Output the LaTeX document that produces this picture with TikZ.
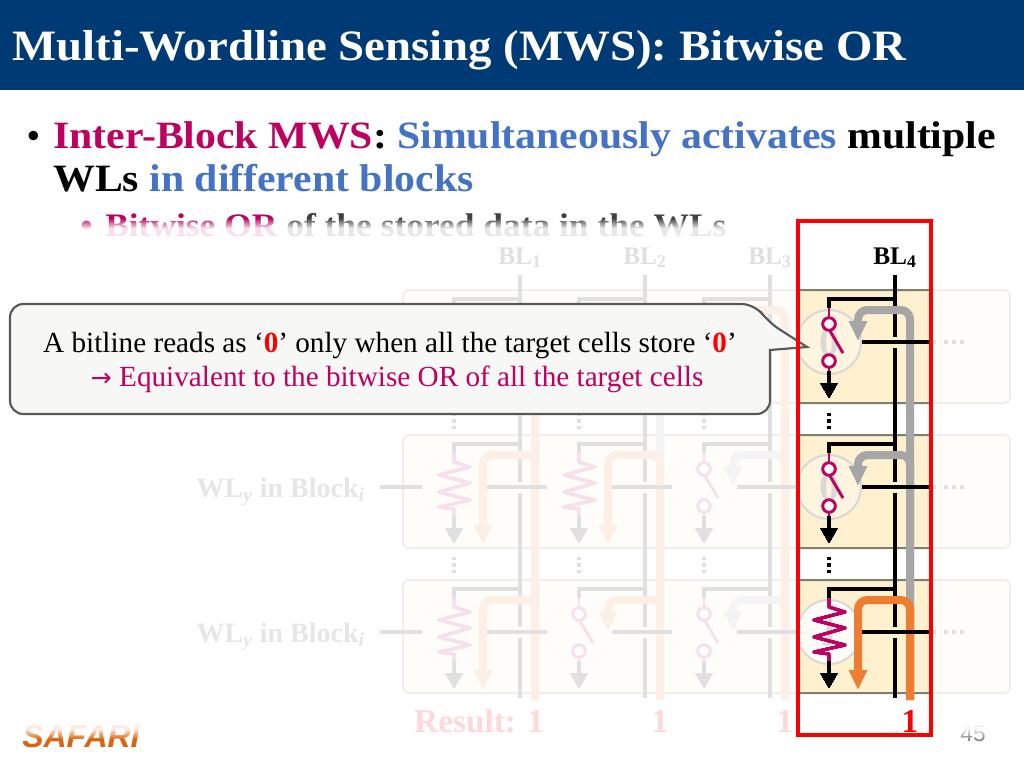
\documentclass[tikz,border=0pt]{standalone}
\usepackage{fontspec}
\setmainfont{Liberation Serif}
\setsansfont{Liberation Sans}
\newfontfamily\symfont{DejaVu Sans}
\newfontfamily\widefont[FakeStretch=1.08]{Liberation Serif}
\usetikzlibrary{arrows.meta,fadings}
\definecolor{slideblue}{HTML}{003A75}
\definecolor{safmag}{HTML}{BE0060}
\definecolor{safblue}{HTML}{4472C4}
\definecolor{bandfill}{HTML}{FFF0CF}
\definecolor{blockedge}{HTML}{7F7F6F}
\definecolor{hotorange}{HTML}{ED7D31}
\definecolor{thickgray}{HTML}{A6A6A6}
\definecolor{ringgray}{HTML}{D9D9D9}
\definecolor{boxfill}{HTML}{F7F7F5}
\definecolor{boxedge}{HTML}{595959}
\definecolor{safari}{HTML}{DC6410}
\tikzset{
  bigtext/.style={anchor=base west, inner sep=0pt, font=\widefont\fontsize{29}{33}\selectfont\bfseries},
  subtext/.style={anchor=base west, inner sep=0pt, font=\widefont\fontsize{24.6}{28}\selectfont\bfseries},
  bllabel/.style={anchor=base, inner sep=0pt, font=\fontsize{19}{22}\selectfont\bfseries},
  wllabel/.style={anchor=base east, inner sep=0pt, text=black!80, font=\fontsize{21}{24}\selectfont\bfseries},
  resultlabel/.style={anchor=base, inner sep=0pt, text=red, font=\fontsize{25}{28}\selectfont\bfseries},
  calltext/.style={anchor=base, inner sep=0pt, font=\fontsize{21.9}{25}\selectfont},
  bitwire/.style={line width=2.4pt},
  cellwire/.style={line width=2.2pt, safmag},
  tinyarrow/.style={bitwire, -{Triangle[length=11pt,width=12pt]}},
  thickarrow/.style={line width=6pt, rounded corners=7pt, -{Triangle[length=15pt,width=13pt]}},
  blockbox/.style={draw=blockedge, line width=1.5pt, fill=bandfill, rounded corners=4.5pt},
  cellring/.style={draw=ringgray, line width=1.6pt, fill=white},
  veil/.style={fill=white, fill opacity=.88},
  dotted3/.style={line width=2.6pt, dash pattern=on 2.6pt off 2.1pt},
}
% one cell: #1 column x, #2 wordline y
\newcommand{\cellswitch}[2]{
  \draw[cellwire] (#1,#2-34) -- (#1,#2-24);
  \draw[cellwire, fill=white] (#1,#2-18) circle (6.3);
  \draw[cellwire] (#1+1,#2-11) -- (#1+14,#2+11);
  \draw[cellwire, fill=white] (#1,#2+19) circle (6.3);
  \draw[cellwire] (#1,#2+25) -- (#1,#2+31);
}
\newcommand{\cellres}[2]{
  \draw[cellwire, line join=round] (#1,#2-34) -- (#1,#2-25) -- (#1+16,#2-20) -- (#1-15,#2-12) -- (#1+16,#2-4)
    -- (#1-15,#2+5) -- (#1+16,#2+13) -- (#1-15,#2+20) -- (#1,#2+22) -- (#1,#2+31);
}
\begin{document}
\begin{tikzpicture}[x=0.75pt,y=-0.75pt]
\useasboundingbox (0,0) rectangle (1024,768);
\fill[white] (0,0) rectangle (1024,768);
\fill[slideblue] (0,0) rectangle (1024,90);
\node[anchor=base west, inner sep=0pt, text=white, font=\widefont\fontsize{32.5}{38}\selectfont\bfseries] (slidetitle) at (12,60) {Multi-Wordline Sensing (MWS): Bitwise OR};

\node[bigtext, font=\fontsize{26}{30}\selectfont\bfseries] (bullet1) at (27,147) {•};
\node[bigtext] (line1) at (53,148) {\textcolor{safmag}{Inter-Block MWS}: \textcolor{safblue}{Simultaneously activates} multiple};
\node[bigtext] (line2) at (53,191) {WLs \textcolor{safblue}{in different blocks}};
\node[subtext, text=safmag] (bullet2) at (80,236) {•};
\node[subtext, text=black!75] (line3) at (105,236) {\textcolor{safmag}{Bitwise OR} of the stored data in the WLs};

\node[anchor=base west, inner sep=0pt, text=safari, font=\fontsize{24}{28}\selectfont\sffamily\bfseries\itshape] (logo) at (22,747) {SAFARI};
\node[anchor=base, inner sep=0pt, text=black!50, font=\fontsize{17}{20}\selectfont\sffamily] (pagenum) at (973,741) {45};

% blocks and dots
\foreach \y in {290,435,580}
  \draw[blockbox] (403,\y) rectangle (1010,\y+113);
\foreach \x in {454,579,704,829} {
  \draw[dotted3] (\x,413) -- (\x,429);
  \draw[dotted3] (\x,557) -- (\x,573);
}
% storage circles
\foreach \y/\o in {342/.3,487/.3,632/.85}
  \draw[cellring, fill opacity=\o] (829,\y) circle (32);
\foreach \x in {454,579,704}
  \foreach \y in {342,487,632}
    \draw[cellring, opacity=.3] (\x,\y) circle (32);
\foreach \x/\y/\v in {829/342/0,829/487/0,829/632/1}
  \node[text=black!15, font=\fontsize{30}{34}\selectfont\bfseries] (bit\y) at (\x,\y) {\v};
% bitlines
\foreach \i/\x in {1/520,2/645,3/770,4/895} {
  \node[bllabel] (bl\i) at (\x,264) {BL\textsubscript{\i}};
  \draw[bitwire] (\x,275) -- (\x,337);
  \draw[bitwire] (\x,348) -- (\x,482);
  \draw[bitwire] (\x,493) -- (\x,627);
  \draw[bitwire] (\x,638) -- (\x,698);
  \foreach \y in {342,487,632}
    \draw[bitwire] (\x,\y-43) -| (\x-66,\y-34);
}
% current paths
\foreach \x/\y in {579/342,704/487,704/632,829/342,829/487}
  \draw[thickarrow, thickgray] (\x+81,700) -- (\x+81,\y-32) -- (\x+29,\y-32) -- (\x+29,\y-1);
\foreach \x/\y/\t in {454/342/58,704/342/58,454/487/58,579/487/58,454/632/58,579/632/-1,829/632/58}
  \draw[thickarrow, hotorange] (\x+81,700) -- (\x+81,\y-32) -- (\x+29,\y-32) -- (\x+29,\y+\t);
% wordlines
\foreach \y in {342,487,632} {
  \draw[bitwire] (380,\y) -- (422,\y);
  \foreach \x in {487,612,737}
    \draw[bitwire] (\x,\y) -- (\x+60,\y);
  \draw[bitwire] (862,\y) -- (936,\y);
  \foreach \x in {946,954,962}
    \fill (\x-2,\y-2) rectangle (\x+2,\y+2);
}
\node[wllabel] (wly2) at (365,497) {WL\textsubscript{\textit{y}} in Block\textsubscript{\textit{i}}};
\node[wllabel] (wly3) at (365,642) {WL\textsubscript{\textit{y}} in Block\textsubscript{\textit{i}}};
% cells
\foreach \x/\y in {579/342,829/342,704/487,829/487,579/632,704/632}
  \cellswitch{\x}{\y}
\foreach \x/\y in {454/342,704/342,454/487,579/487,454/632,829/632}
  \cellres{\x}{\y}
\foreach \x in {454,579,704,829}
  \foreach \y in {342,487,632}
    \draw[tinyarrow] (\x,\y+29) -- (\x,\y+56);

% everything outside the red box is washed out
\fill[veil] (0,228) rectangle (798,729);
\fill[veil] (931,228) rectangle (1024,729);
\fill[white, fill opacity=.88, path fading=north] (0,218) rectangle (798,228);
\fill[white, fill opacity=.88, path fading=south] (0,729) rectangle (798,739);
\fill[white, fill opacity=.88, path fading=south] (931,729) rectangle (1024,739);

\node[resultlabel, opacity=.15] (res1) at (479,732) {Result: 1};
\node[resultlabel, opacity=.15] (res2) at (660,732) {1};
\node[resultlabel, opacity=.15] (res3) at (785,732) {1};
\node[resultlabel] (res4) at (910,732) {1};

% callout
\draw[line width=1.6pt, draw=boxedge, fill=boxfill, rounded corners=10pt] (10,304) -- (755,304) -- (768,322) [sharp corners] -- (807,347) -- (770,350) [rounded corners=10pt] -- (770,414) -- (10,414) -- cycle;
\node[calltext] (calla) at (390,352) {A bitline reads as ‘\textcolor{red}{\bfseries 0}’ only when all the target cells store ‘\textcolor{red}{\bfseries 0}’};
\node[calltext, text=safmag] (callb) at (397,386) {{\symfont\fontsize{19}{22}\selectfont →} Equivalent to the bitwise OR of all the target cells};

\draw[red, line width=2.4pt] (798,221) rectangle (931,735);
\end{tikzpicture}
\end{document}
